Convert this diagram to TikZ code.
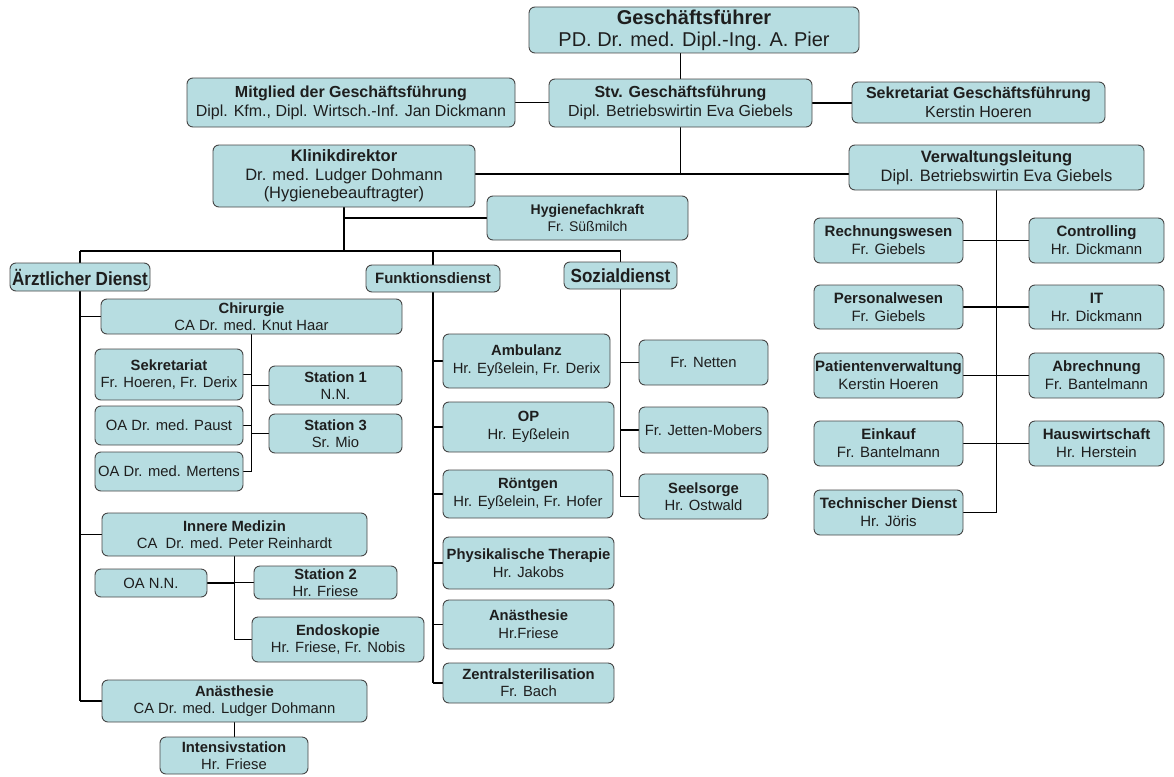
\documentclass[tikz,border=0pt]{standalone}
\usepackage{fontspec}
\setmainfont{Liberation Sans}
\newfontfamily\narrowfont[FakeStretch=0.9]{Liberation Sans}
\usetikzlibrary{backgrounds}
\definecolor{boxfill}{RGB}{183,221,225}
\definecolor{boxline}{RGB}{70,70,70}
\definecolor{txt}{RGB}{30,30,30}
\newcommand\fs[2]{\fontsize{#1}{#2}\selectfont}
\newcommand\ob[7]{\node[box,font=#6,minimum width={(#4-#2)*1pt},minimum height={(#5-#3)*1pt}] (#1) at ({(#2+#4)/2},{(#3+#5)/2}) {#7};}
\begin{document}
\begin{tikzpicture}[x=1pt,y=-1pt,
  box/.style={draw=boxline,line width=0.9pt,fill=boxfill,rounded corners=6pt,align=center,inner sep=0pt,text=txt},
  conn/.style={line width=1.8pt,draw=black}]
\useasboundingbox (0,0) rectangle (1174,776);
% top level
\ob{gf}{529}{7}{859}{53}{\fs{20}{22}}{\textbf{Geschäftsführer}\\PD. Dr. med. Dipl.-Ing. A. Pier}
\ob{mitg}{187}{78}{515}{127}{\fs{16}{19}}{\textbf{Mitglied der Geschäftsführung}\\Dipl. Kfm., Dipl. Wirtsch.-Inf. Jan Dickmann}
\ob{stv}{549}{79}{812}{127}{\fs{16}{19}}{\textbf{Stv. Geschäftsführung}\\Dipl. Betriebswirtin Eva Giebels}
\ob{sekgf}{852}{82}{1105}{123}{\fs{16}{19}}{\textbf{Sekretariat Geschäftsführung}\\Kerstin Hoeren}
\ob{klinik}{213}{145}{475}{207}{\fs{16.5}{18.5}}{\textbf{Klinikdirektor}\\Dr. med. Ludger Dohmann\\(Hygienebeauftragter)}
\ob{verw}{849}{145}{1144}{190}{\fs{16.5}{19}}{\textbf{Verwaltungsleitung}\\Dipl. Betriebswirtin Eva Giebels}
\ob{hyg}{487}{196}{688}{240}{\fs{14}{17}}{\textbf{Hygienefachkraft}\\Fr. Süßmilch}
% second level
\ob{aerzt}{10}{263}{150}{291}{\narrowfont\bfseries\fs{19}{21}}{Ärztlicher Dienst}
\ob{funk}{366}{265}{500}{292}{\bfseries\fs{15}{17}}{Funktionsdienst}
\ob{sozial}{564}{262}{677}{289}{\narrowfont\bfseries\fs{19}{21}}{Sozialdienst}
% Aerztlicher Dienst
\ob{chir}{101}{299}{402}{334}{\fs{14.8}{16.5}}{\textbf{Chirurgie}\\CA Dr. med. Knut Haar}
\ob{sekr}{95}{349}{243}{400}{\fs{14.8}{17}}{\textbf{Sekretariat}\\Fr. Hoeren, Fr. Derix}
\ob{paust}{95}{406}{243}{445}{\fs{14.8}{17}}{OA Dr. med. Paust}
\ob{mertens}{95}{452}{243}{491}{\fs{14.8}{17}}{OA Dr. med. Mertens}
\ob{st1}{269}{366}{402}{405}{\fs{14.8}{16.5}}{\textbf{Station 1}\\N.N.}
\ob{st3}{269}{414}{402}{453}{\fs{14.8}{16.5}}{\textbf{Station 3}\\Sr. Mio}
\ob{im}{102}{513}{367}{556}{\fs{14.8}{17}}{\textbf{Innere Medizin}\\CA\ \ Dr. med. Peter Reinhardt}
\ob{oann}{95}{569}{207}{597}{\fs{14.8}{17}}{OA N.N.}
\ob{st2}{254}{566}{397}{599}{\fs{14.8}{16.5}}{\textbf{Station 2}\\Hr. Friese}
\ob{endo}{252}{617}{424}{662}{\fs{14.8}{17}}{\textbf{Endoskopie}\\Hr. Friese, Fr. Nobis}
\ob{anae}{102}{680}{367}{722}{\fs{14.8}{17}}{\textbf{Anästhesie}\\CA Dr. med. Ludger Dohmann}
\ob{intens}{160}{737}{308}{774}{\fs{14.8}{16.5}}{\textbf{Intensivstation}\\Hr. Friese}
% Funktionsdienst
\ob{amb}{443}{334}{610}{388}{\fs{14.8}{18}}{\textbf{Ambulanz}\\Hr. Eyßelein, Fr. Derix}
\ob{op}{443}{402}{614}{452}{\fs{14.8}{18}}{\textbf{OP}\\Hr. Eyßelein}
\ob{roe}{443}{470}{613}{518}{\fs{14.8}{18}}{\textbf{Röntgen}\\Hr. Eyßelein, Fr. Hofer}
\ob{phys}{443}{537}{614}{589}{\fs{14.8}{18}}{\textbf{Physikalische Therapie}\\Hr. Jakobs}
\ob{anaef}{443}{600}{614}{649}{\fs{14.8}{18}}{\textbf{Anästhesie}\\Hr.Friese}
\ob{zentr}{443}{663}{614}{703}{\fs{14.8}{17}}{\textbf{Zentralsterilisation}\\Fr. Bach}
% Sozialdienst
\ob{netten}{639}{340}{768}{385}{\fs{14.8}{17}}{Fr. Netten}
\ob{jetten}{639}{407}{768}{453}{\fs{14.8}{17}}{Fr. Jetten-Mobers}
\ob{seel}{639}{474}{768}{519}{\fs{14.8}{17}}{\textbf{Seelsorge}\\Hr. Ostwald}
% Verwaltung
\ob{rech}{814}{218}{963}{263}{\fs{15}{18}}{\textbf{Rechnungswesen}\\Fr. Giebels}
\ob{contr}{1029}{218}{1164}{263}{\fs{15}{18}}{\textbf{Controlling}\\Hr. Dickmann}
\ob{pers}{814}{285}{963}{329}{\fs{15}{18}}{\textbf{Personalwesen}\\Fr. Giebels}
\ob{it}{1029}{285}{1164}{329}{\fs{15}{18}}{\textbf{IT}\\Hr. Dickmann}
\ob{pat}{814}{353}{963}{398}{\fs{15}{18}}{\textbf{Patientenverwaltung}\\Kerstin Hoeren}
\ob{abr}{1029}{353}{1164}{398}{\fs{15}{18}}{\textbf{Abrechnung}\\Fr. Bantelmann}
\ob{eink}{814}{421}{963}{466}{\fs{15}{18}}{\textbf{Einkauf}\\Fr. Bantelmann}
\ob{haus}{1029}{421}{1164}{466}{\fs{15}{18}}{\textbf{Hauswirtschaft}\\Hr. Herstein}
\ob{tech}{814}{490}{963}{535}{\fs{15}{18}}{\textbf{Technischer Dienst}\\Hr. Jöris}
% connectors
\coordinate (j1) at (681,174);
\coordinate (bus) at (345,251);
\begin{scope}[on background layer]
\draw[conn] (gf.south -| stv.north) -- (stv.north);
\draw[conn] (mitg.east) -- (mitg.east -| stv.west);
\draw[conn] (stv.east) -- (stv.east -| sekgf.west);
\draw[conn] (stv.south) -- (stv.south |- j1);
\draw[conn] (klinik.east |- j1) -- (verw.west |- j1);
\draw[conn] (klinik.south) -- (klinik.south |- bus);
\draw[conn,line width=2.6pt] (klinik.south |- hyg.west) -- (hyg.west);
\draw[conn] (aerzt.north |- bus) -- (sozial.north |- bus);
\foreach \n in {aerzt,funk,sozial} \draw[conn] (\n.north |- bus) -- (\n.north);
% Aerztlicher Dienst
\draw[conn] (aerzt.south) -- (aerzt.south |- anae.west);
\foreach \n in {chir,im,anae} \draw[conn] (aerzt.south |- \n.west) -- (\n.west);
\draw[conn] (chir.south) -- (chir.south |- mertens.east);
\foreach \n in {sekr,paust,mertens} \draw[conn] (\n.east) -- (chir.south |- \n.east);
\foreach \n in {st1,st3} \draw[conn] (chir.south |- \n.west) -- (\n.west);
\draw[conn] (im.south) -- (im.south |- endo.west);
\draw[conn] (oann.east) -- (im.south |- oann.east);
\foreach \n in {st2,endo} \draw[conn] (im.south |- \n.west) -- (\n.west);
\draw[conn] (anae.south) -- (anae.south |- intens.north);
% Funktionsdienst
\draw[conn] (funk.south) -- (funk.south |- zentr.west);
\foreach \n in {amb,op,roe,phys,anaef,zentr} \draw[conn] (funk.south |- \n.west) -- (\n.west);
% Sozialdienst
\draw[conn] (sozial.south) -- (sozial.south |- seel.west);
\foreach \n in {netten,jetten,seel} \draw[conn] (sozial.south |- \n.west) -- (\n.west);
% Verwaltung
\draw[conn] (verw.south) -- (verw.south |- tech.east);
\foreach \n in {rech,pers,pat,eink,tech} \draw[conn] (\n.east) -- (verw.south |- \n.east);
\foreach \n in {contr,it,abr,haus} \draw[conn] (verw.south |- \n.west) -- (\n.west);
\end{scope}
\end{tikzpicture}
\end{document}
